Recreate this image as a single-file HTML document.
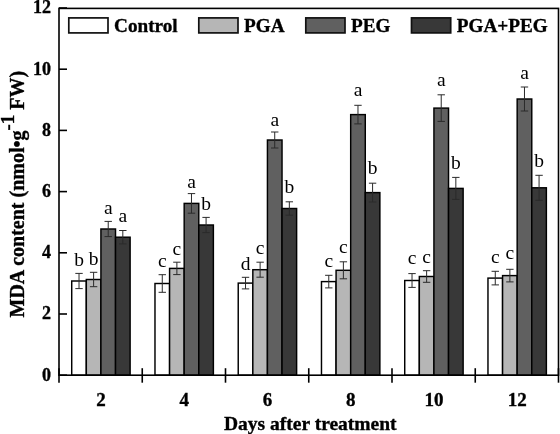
<!DOCTYPE html><html><head><meta charset="utf-8"><style>html,body{margin:0;padding:0;background:#fff;}svg{display:block;will-change:transform;}</style></head><body><svg width="560" height="434" viewBox="0 0 560 434"><rect width="560" height="434" fill="#fff"/><rect x="71.72" y="281.00" width="14.60" height="94.20" fill="#ffffff" stroke="#000" stroke-width="1.45"/><rect x="86.32" y="279.50" width="14.60" height="95.70" fill="#b6b6b6" stroke="#000" stroke-width="1.45"/><rect x="100.92" y="229.00" width="14.60" height="146.20" fill="#606060" stroke="#000" stroke-width="1.45"/><rect x="115.52" y="237.20" width="14.60" height="138.00" fill="#383838" stroke="#000" stroke-width="1.45"/><rect x="154.98" y="283.50" width="14.60" height="91.70" fill="#ffffff" stroke="#000" stroke-width="1.45"/><rect x="169.58" y="268.40" width="14.60" height="106.80" fill="#b6b6b6" stroke="#000" stroke-width="1.45"/><rect x="184.18" y="203.40" width="14.60" height="171.80" fill="#606060" stroke="#000" stroke-width="1.45"/><rect x="198.78" y="225.00" width="14.60" height="150.20" fill="#383838" stroke="#000" stroke-width="1.45"/><rect x="238.23" y="283.10" width="14.60" height="92.10" fill="#ffffff" stroke="#000" stroke-width="1.45"/><rect x="252.83" y="269.70" width="14.60" height="105.50" fill="#b6b6b6" stroke="#000" stroke-width="1.45"/><rect x="267.43" y="140.00" width="14.60" height="235.20" fill="#606060" stroke="#000" stroke-width="1.45"/><rect x="282.03" y="208.50" width="14.60" height="166.70" fill="#383838" stroke="#000" stroke-width="1.45"/><rect x="321.48" y="281.60" width="14.60" height="93.60" fill="#ffffff" stroke="#000" stroke-width="1.45"/><rect x="336.08" y="270.30" width="14.60" height="104.90" fill="#b6b6b6" stroke="#000" stroke-width="1.45"/><rect x="350.68" y="114.60" width="14.60" height="260.60" fill="#606060" stroke="#000" stroke-width="1.45"/><rect x="365.28" y="192.60" width="14.60" height="182.60" fill="#383838" stroke="#000" stroke-width="1.45"/><rect x="404.73" y="280.50" width="14.60" height="94.70" fill="#ffffff" stroke="#000" stroke-width="1.45"/><rect x="419.33" y="276.50" width="14.60" height="98.70" fill="#b6b6b6" stroke="#000" stroke-width="1.45"/><rect x="433.93" y="108.10" width="14.60" height="267.10" fill="#606060" stroke="#000" stroke-width="1.45"/><rect x="448.53" y="188.40" width="14.60" height="186.80" fill="#383838" stroke="#000" stroke-width="1.45"/><rect x="487.97" y="278.10" width="14.60" height="97.10" fill="#ffffff" stroke="#000" stroke-width="1.45"/><rect x="502.57" y="275.60" width="14.60" height="99.60" fill="#b6b6b6" stroke="#000" stroke-width="1.45"/><rect x="517.17" y="99.00" width="14.60" height="276.20" fill="#606060" stroke="#000" stroke-width="1.45"/><rect x="531.77" y="187.80" width="14.60" height="187.40" fill="#383838" stroke="#000" stroke-width="1.45"/><path d="M75.32 273.40H82.72M79.02 273.40V288.60M75.32 288.60H82.72" stroke="#2a2a2a" stroke-width="1.0" fill="none"/><text x="79.02" y="266.40" font-family="Liberation Serif" font-size="19.5" text-anchor="middle" fill="#000">b</text><path d="M89.92 272.30H97.32M93.62 272.30V286.70M89.92 286.70H97.32" stroke="#2a2a2a" stroke-width="1.0" fill="none"/><text x="93.62" y="265.30" font-family="Liberation Serif" font-size="19.5" text-anchor="middle" fill="#000">b</text><path d="M104.52 221.40H111.92M108.22 221.40V236.60M104.52 236.60H111.92" stroke="#2a2a2a" stroke-width="1.0" fill="none"/><text x="108.22" y="213.70" font-family="Liberation Serif" font-size="19.5" text-anchor="middle" fill="#000">a</text><path d="M119.12 230.50H126.52M122.82 230.50V243.90M119.12 243.90H126.52" stroke="#2a2a2a" stroke-width="1.0" fill="none"/><text x="122.82" y="222.20" font-family="Liberation Serif" font-size="19.5" text-anchor="middle" fill="#000">a</text><path d="M158.58 274.70H165.98M162.28 274.70V292.30M158.58 292.30H165.98" stroke="#2a2a2a" stroke-width="1.0" fill="none"/><text x="162.28" y="267.10" font-family="Liberation Serif" font-size="19.5" text-anchor="middle" fill="#000">c</text><path d="M173.18 262.20H180.58M176.88 262.20V274.60M173.18 274.60H180.58" stroke="#2a2a2a" stroke-width="1.0" fill="none"/><text x="176.88" y="254.70" font-family="Liberation Serif" font-size="19.5" text-anchor="middle" fill="#000">c</text><path d="M187.78 193.60H195.18M191.48 193.60V213.20M187.78 213.20H195.18" stroke="#2a2a2a" stroke-width="1.0" fill="none"/><text x="191.48" y="187.60" font-family="Liberation Serif" font-size="19.5" text-anchor="middle" fill="#000">a</text><path d="M202.38 217.40H209.78M206.08 217.40V232.60M202.38 232.60H209.78" stroke="#2a2a2a" stroke-width="1.0" fill="none"/><text x="206.08" y="209.90" font-family="Liberation Serif" font-size="19.5" text-anchor="middle" fill="#000">b</text><path d="M241.83 277.30H249.23M245.53 277.30V288.90M241.83 288.90H249.23" stroke="#2a2a2a" stroke-width="1.0" fill="none"/><text x="245.53" y="269.80" font-family="Liberation Serif" font-size="19.5" text-anchor="middle" fill="#000">d</text><path d="M256.43 262.20H263.82M260.12 262.20V277.20M256.43 277.20H263.82" stroke="#2a2a2a" stroke-width="1.0" fill="none"/><text x="260.12" y="254.20" font-family="Liberation Serif" font-size="19.5" text-anchor="middle" fill="#000">c</text><path d="M271.03 132.00H278.43M274.73 132.00V148.00M271.03 148.00H278.43" stroke="#2a2a2a" stroke-width="1.0" fill="none"/><text x="274.73" y="125.80" font-family="Liberation Serif" font-size="19.5" text-anchor="middle" fill="#000">a</text><path d="M285.63 201.80H293.03M289.33 201.80V215.20M285.63 215.20H293.03" stroke="#2a2a2a" stroke-width="1.0" fill="none"/><text x="289.33" y="192.50" font-family="Liberation Serif" font-size="19.5" text-anchor="middle" fill="#000">b</text><path d="M325.08 275.30H332.48M328.78 275.30V287.90M325.08 287.90H332.48" stroke="#2a2a2a" stroke-width="1.0" fill="none"/><text x="328.78" y="267.10" font-family="Liberation Serif" font-size="19.5" text-anchor="middle" fill="#000">c</text><path d="M339.68 261.80H347.08M343.38 261.80V278.80M339.68 278.80H347.08" stroke="#2a2a2a" stroke-width="1.0" fill="none"/><text x="343.38" y="252.60" font-family="Liberation Serif" font-size="19.5" text-anchor="middle" fill="#000">c</text><path d="M354.28 105.30H361.68M357.98 105.30V123.90M354.28 123.90H361.68" stroke="#2a2a2a" stroke-width="1.0" fill="none"/><text x="357.98" y="96.40" font-family="Liberation Serif" font-size="19.5" text-anchor="middle" fill="#000">a</text><path d="M368.88 183.20H376.28M372.58 183.20V202.00M368.88 202.00H376.28" stroke="#2a2a2a" stroke-width="1.0" fill="none"/><text x="372.58" y="174.30" font-family="Liberation Serif" font-size="19.5" text-anchor="middle" fill="#000">b</text><path d="M408.33 273.60H415.73M412.03 273.60V287.40M408.33 287.40H415.73" stroke="#2a2a2a" stroke-width="1.0" fill="none"/><text x="412.03" y="264.40" font-family="Liberation Serif" font-size="19.5" text-anchor="middle" fill="#000">c</text><path d="M422.93 270.70H430.33M426.63 270.70V282.30M422.93 282.30H430.33" stroke="#2a2a2a" stroke-width="1.0" fill="none"/><text x="426.63" y="262.80" font-family="Liberation Serif" font-size="19.5" text-anchor="middle" fill="#000">c</text><path d="M437.53 94.80H444.93M441.23 94.80V121.40M437.53 121.40H444.93" stroke="#2a2a2a" stroke-width="1.0" fill="none"/><text x="441.23" y="86.00" font-family="Liberation Serif" font-size="19.5" text-anchor="middle" fill="#000">a</text><path d="M452.13 177.40H459.53M455.83 177.40V199.40M452.13 199.40H459.53" stroke="#2a2a2a" stroke-width="1.0" fill="none"/><text x="455.83" y="169.00" font-family="Liberation Serif" font-size="19.5" text-anchor="middle" fill="#000">b</text><path d="M491.57 271.30H498.97M495.27 271.30V284.90M491.57 284.90H498.97" stroke="#2a2a2a" stroke-width="1.0" fill="none"/><text x="495.27" y="262.80" font-family="Liberation Serif" font-size="19.5" text-anchor="middle" fill="#000">c</text><path d="M506.18 269.30H513.58M509.88 269.30V281.90M506.18 281.90H513.58" stroke="#2a2a2a" stroke-width="1.0" fill="none"/><text x="509.88" y="259.10" font-family="Liberation Serif" font-size="19.5" text-anchor="middle" fill="#000">c</text><path d="M520.77 87.00H528.17M524.47 87.00V111.00M520.77 111.00H528.17" stroke="#2a2a2a" stroke-width="1.0" fill="none"/><text x="524.47" y="79.30" font-family="Liberation Serif" font-size="19.5" text-anchor="middle" fill="#000">a</text><path d="M535.37 175.30H542.77M539.07 175.30V200.30M535.37 200.30H542.77" stroke="#2a2a2a" stroke-width="1.0" fill="none"/><text x="539.07" y="166.70" font-family="Liberation Serif" font-size="19.5" text-anchor="middle" fill="#000">b</text><rect x="59.0" y="8.4" width="499.5" height="366.8" fill="none" stroke="#000" stroke-width="1.6"/><path d="M59.0 375.20H67.0" stroke="#000" stroke-width="1.6"/><text x="51" y="380.50" font-family="Liberation Serif" font-weight="bold" font-size="18" text-anchor="end" stroke="#000" stroke-width="0.35">0</text><path d="M59.0 314.00H67.0" stroke="#000" stroke-width="1.6"/><text x="51" y="319.30" font-family="Liberation Serif" font-weight="bold" font-size="18" text-anchor="end" stroke="#000" stroke-width="0.35">2</text><path d="M59.0 252.80H67.0" stroke="#000" stroke-width="1.6"/><text x="51" y="258.10" font-family="Liberation Serif" font-weight="bold" font-size="18" text-anchor="end" stroke="#000" stroke-width="0.35">4</text><path d="M59.0 191.60H67.0" stroke="#000" stroke-width="1.6"/><text x="51" y="196.90" font-family="Liberation Serif" font-weight="bold" font-size="18" text-anchor="end" stroke="#000" stroke-width="0.35">6</text><path d="M59.0 130.40H67.0" stroke="#000" stroke-width="1.6"/><text x="51" y="135.70" font-family="Liberation Serif" font-weight="bold" font-size="18" text-anchor="end" stroke="#000" stroke-width="0.35">8</text><path d="M59.0 69.20H67.0" stroke="#000" stroke-width="1.6"/><text x="51" y="74.50" font-family="Liberation Serif" font-weight="bold" font-size="18" text-anchor="end" stroke="#000" stroke-width="0.35">10</text><path d="M59.0 8.00H67.0" stroke="#000" stroke-width="1.6"/><text x="51" y="13.30" font-family="Liberation Serif" font-weight="bold" font-size="18" text-anchor="end" stroke="#000" stroke-width="0.35">12</text><path d="M59.00 368.20V382.70" stroke="#000" stroke-width="1.6"/><path d="M142.25 368.20V382.70" stroke="#000" stroke-width="1.6"/><path d="M225.50 368.20V382.70" stroke="#000" stroke-width="1.6"/><path d="M308.75 368.20V382.70" stroke="#000" stroke-width="1.6"/><path d="M392.00 368.20V382.70" stroke="#000" stroke-width="1.6"/><path d="M475.25 368.20V382.70" stroke="#000" stroke-width="1.6"/><path d="M558.50 368.20V382.70" stroke="#000" stroke-width="1.6"/><text x="100.92" y="405.8" font-family="Liberation Serif" font-weight="bold" font-size="19" text-anchor="middle" stroke="#000" stroke-width="0.35">2</text><text x="184.18" y="405.8" font-family="Liberation Serif" font-weight="bold" font-size="19" text-anchor="middle" stroke="#000" stroke-width="0.35">4</text><text x="267.43" y="405.8" font-family="Liberation Serif" font-weight="bold" font-size="19" text-anchor="middle" stroke="#000" stroke-width="0.35">6</text><text x="350.68" y="405.8" font-family="Liberation Serif" font-weight="bold" font-size="19" text-anchor="middle" stroke="#000" stroke-width="0.35">8</text><text x="433.93" y="405.8" font-family="Liberation Serif" font-weight="bold" font-size="19" text-anchor="middle" stroke="#000" stroke-width="0.35">10</text><text x="517.17" y="405.8" font-family="Liberation Serif" font-weight="bold" font-size="19" text-anchor="middle" stroke="#000" stroke-width="0.35">12</text><text x="310.3" y="429.7" font-family="Liberation Serif" font-weight="bold" font-size="19.5" text-anchor="middle" stroke="#000" stroke-width="0.35">Days after treatment</text><text transform="translate(24.2 317.5) rotate(-90)" font-family="Liberation Serif" font-weight="bold" font-size="20" stroke="#000" stroke-width="0.35">MDA content (nmol&#8226;g<tspan dy="-10" font-size="19">-1</tspan><tspan dy="10"> FW)</tspan></text><rect x="68.80" y="17.9" width="39.2" height="15" fill="#ffffff" stroke="#111" stroke-width="1.7"/><text x="114.10" y="31.5" font-family="Liberation Serif" font-weight="bold" font-size="19.2" stroke="#000" stroke-width="0.35">Control</text><rect x="198.80" y="17.9" width="39.2" height="15" fill="#b6b6b6" stroke="#111" stroke-width="1.7"/><text x="244.10" y="31.5" font-family="Liberation Serif" font-weight="bold" font-size="19.2" stroke="#000" stroke-width="0.35">PGA</text><rect x="305.80" y="17.9" width="39.2" height="15" fill="#606060" stroke="#111" stroke-width="1.7"/><text x="351.10" y="31.5" font-family="Liberation Serif" font-weight="bold" font-size="19.2" stroke="#000" stroke-width="0.35">PEG</text><rect x="411.50" y="17.9" width="39.2" height="15" fill="#383838" stroke="#111" stroke-width="1.7"/><text x="456.80" y="31.5" font-family="Liberation Serif" font-weight="bold" font-size="19.2" stroke="#000" stroke-width="0.35">PGA+PEG</text></svg></body></html>
